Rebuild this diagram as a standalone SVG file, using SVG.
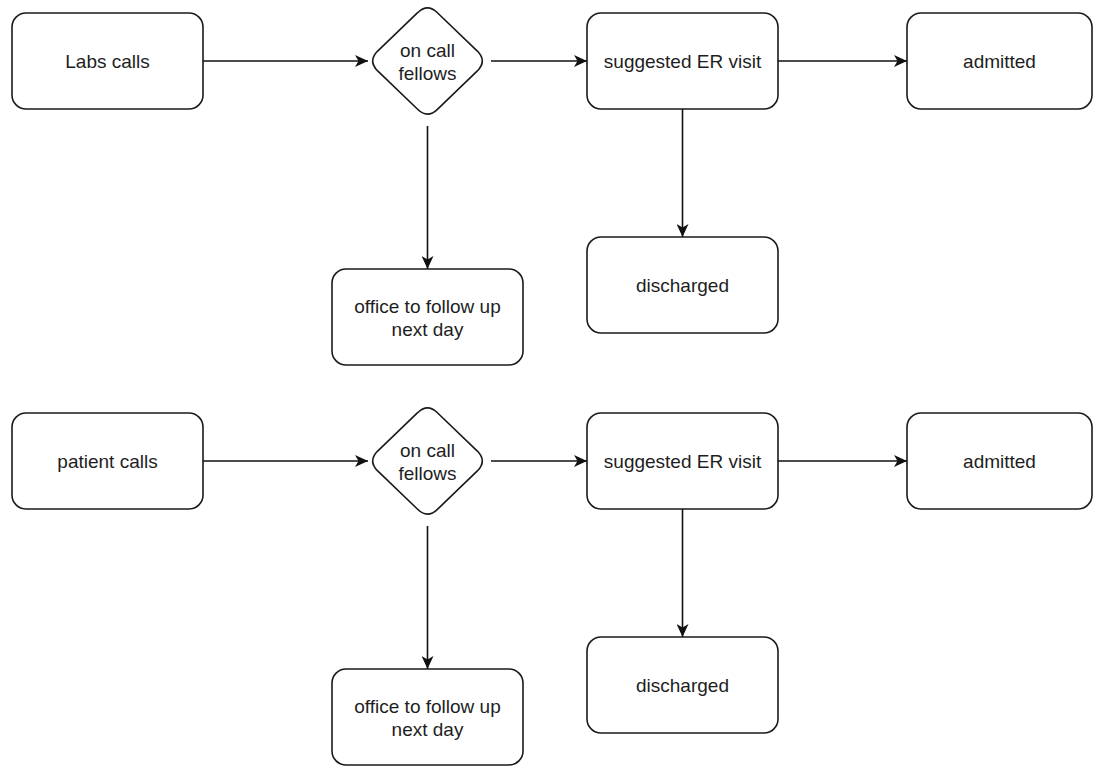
<svg xmlns="http://www.w3.org/2000/svg" width="1095" height="767" viewBox="0 0 1095 767">
<style>
.box{fill:#fff;stroke:#1a1a1a;stroke-width:1.6}
.lbl{font-family:"Liberation Sans",Arial,Helvetica,sans-serif;font-size:19px;fill:#1e1e1e;text-anchor:middle}
.edge{fill:none;stroke:#111;stroke-width:1.6;marker-end:url(#arr)}
</style>
<defs>
<marker id="arr" viewBox="0 0 13 12" refX="13" refY="6" markerWidth="13" markerHeight="12" markerUnits="userSpaceOnUse" orient="auto">
<path d="M0,0 L13,6 L0,12 L3.5,6 Z" fill="#111"/>
</marker>
<path id="diamond" d="M417.6,12.7 Q427.5,3 437.4,12.7 L477.6,51.3 Q487,61 477.6,70.7 L437.4,109.3 Q427.5,119 417.6,109.3 L377.4,70.7 Q368,61 377.4,51.3 Z"/>
</defs>
<rect width="1095" height="767" fill="#fff"/>

<g id="connectors">
<line class="edge" x1="203" y1="61" x2="368" y2="61"/>
<line class="edge" x1="491" y1="61" x2="587" y2="61"/>
<line class="edge" x1="778" y1="61" x2="907" y2="61"/>
<line class="edge" x1="427.5" y1="126" x2="427.5" y2="269"/>
<line class="edge" x1="682.5" y1="109" x2="682.5" y2="237"/>
<line class="edge" x1="203" y1="461" x2="368" y2="461"/>
<line class="edge" x1="491" y1="461" x2="587" y2="461"/>
<line class="edge" x1="778" y1="461" x2="907" y2="461"/>
<line class="edge" x1="427.5" y1="526" x2="427.5" y2="669"/>
<line class="edge" x1="682.5" y1="509" x2="682.5" y2="637"/>
</g>

<g id="labs-calls">
<rect class="box" x="12" y="13" width="191" height="96" rx="14"/>
<text class="lbl" x="107.5" y="68">Labs calls</text>
</g>
<g id="on-call-fellows-1">
<use href="#diamond" class="box"/>
<text class="lbl" x="427.5" y="56.5">on call</text>
<text class="lbl" x="427.5" y="79.5">fellows</text>
</g>
<g id="suggested-er-1">
<rect class="box" x="587" y="13" width="191" height="96" rx="14"/>
<text class="lbl" x="682.5" y="68">suggested ER visit</text>
</g>
<g id="admitted-1">
<rect class="box" x="907" y="13" width="185" height="96" rx="14"/>
<text class="lbl" x="999.5" y="68">admitted</text>
</g>
<g id="office-1">
<rect class="box" x="332" y="269" width="191" height="96" rx="14"/>
<text class="lbl" x="427.5" y="313">office to follow up</text>
<text class="lbl" x="427.5" y="336">next day</text>
</g>
<g id="discharged-1">
<rect class="box" x="587" y="237" width="191" height="96" rx="14"/>
<text class="lbl" x="682.5" y="292">discharged</text>
</g>

<g id="patient-calls">
<rect class="box" x="12" y="413" width="191" height="96" rx="14"/>
<text class="lbl" x="107.5" y="468">patient calls</text>
</g>
<g id="on-call-fellows-2">
<use href="#diamond" class="box" transform="translate(0,400)"/>
<text class="lbl" x="427.5" y="456.5">on call</text>
<text class="lbl" x="427.5" y="479.5">fellows</text>
</g>
<g id="suggested-er-2">
<rect class="box" x="587" y="413" width="191" height="96" rx="14"/>
<text class="lbl" x="682.5" y="468">suggested ER visit</text>
</g>
<g id="admitted-2">
<rect class="box" x="907" y="413" width="185" height="96" rx="14"/>
<text class="lbl" x="999.5" y="468">admitted</text>
</g>
<g id="office-2">
<rect class="box" x="332" y="669" width="191" height="96" rx="14"/>
<text class="lbl" x="427.5" y="713">office to follow up</text>
<text class="lbl" x="427.5" y="736">next day</text>
</g>
<g id="discharged-2">
<rect class="box" x="587" y="637" width="191" height="96" rx="14"/>
<text class="lbl" x="682.5" y="692">discharged</text>
</g>
</svg>
